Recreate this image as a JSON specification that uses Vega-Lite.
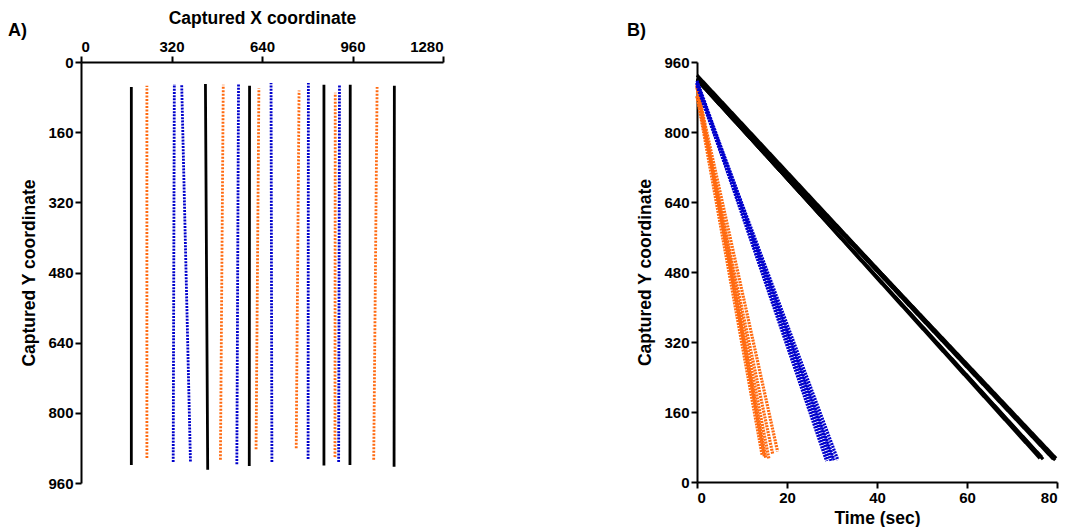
{
  "$schema": "https://vega.github.io/schema/vega-lite/v6.json",
  "background": "white",
  "padding": {"left": 7, "top": 9, "right": 5, "bottom": 0},
  "config": {
    "font": "Liberation Sans",
    "view": {"stroke": null},
    "axis": {
      "labelFont": "Liberation Sans", "labelFontSize": 15, "labelFontWeight": "bold", "labelColor": "black",
      "titleFont": "Liberation Sans", "titleFontSize": 17.5, "titleFontWeight": "bold", "titleColor": "black",
      "domainColor": "black", "domainWidth": 2, "tickColor": "black", "tickWidth": 2, "tickSize": 6,
      "grid": false, "labelPadding": 2, "format": "d"
    },
    "title": {"font": "Liberation Sans", "fontSize": 18, "fontWeight": "bold", "color": "black", "anchor": "start", "frame": "bounds"}
  },
  "datasets": {
    "tracks": [
      {"trk": "k1", "grp": "Black", "x": 178, "y": 919, "t": 0},
      {"trk": "k1", "grp": "Black", "x": 178, "y": 57, "t": 76.6},
      {"trk": "k2", "grp": "Black", "x": 448, "y": 930, "t": 0},
      {"trk": "k2", "grp": "Black", "x": 440, "y": 50, "t": 79.6},
      {"trk": "k3", "grp": "Black", "x": 595, "y": 921, "t": 0},
      {"trk": "k3", "grp": "Black", "x": 596, "y": 54, "t": 76.2},
      {"trk": "k4", "grp": "Black", "x": 859, "y": 920, "t": 0},
      {"trk": "k4", "grp": "Black", "x": 859, "y": 52, "t": 79.2},
      {"trk": "k5", "grp": "Black", "x": 951, "y": 919, "t": 0},
      {"trk": "k5", "grp": "Black", "x": 952, "y": 52, "t": 76.9},
      {"trk": "k6", "grp": "Black", "x": 1107, "y": 923, "t": 0},
      {"trk": "k6", "grp": "Black", "x": 1108, "y": 54, "t": 79.8},
      {"trk": "o1", "grp": "Orange", "x": 233, "y": 903, "t": 0},
      {"trk": "o1", "grp": "Orange", "x": 233, "y": 54, "t": 15.3},
      {"trk": "o2", "grp": "Orange", "x": 493, "y": 907, "t": 0},
      {"trk": "o2", "grp": "Orange", "x": 503, "y": 52, "t": 16.0},
      {"trk": "o3", "grp": "Orange", "x": 619, "y": 883, "t": 0},
      {"trk": "o3", "grp": "Orange", "x": 629, "y": 60, "t": 14.5},
      {"trk": "o4", "grp": "Orange", "x": 761, "y": 881, "t": 0},
      {"trk": "o4", "grp": "Orange", "x": 771, "y": 65, "t": 16.8},
      {"trk": "o5", "grp": "Orange", "x": 898, "y": 901, "t": 0},
      {"trk": "o5", "grp": "Orange", "x": 899, "y": 70, "t": 17.9},
      {"trk": "o6", "grp": "Orange", "x": 1035, "y": 907, "t": 0},
      {"trk": "o6", "grp": "Orange", "x": 1047, "y": 57, "t": 15.0},
      {"trk": "b1", "grp": "Blue", "x": 326, "y": 912, "t": 0},
      {"trk": "b1", "grp": "Blue", "x": 330, "y": 50, "t": 29.2},
      {"trk": "b2", "grp": "Blue", "x": 387, "y": 911, "t": 0},
      {"trk": "b2", "grp": "Blue", "x": 356, "y": 50, "t": 31.3},
      {"trk": "b3", "grp": "Blue", "x": 551, "y": 917, "t": 0},
      {"trk": "b3", "grp": "Blue", "x": 557, "y": 50, "t": 30.5},
      {"trk": "b4", "grp": "Blue", "x": 675, "y": 912, "t": 0},
      {"trk": "b4", "grp": "Blue", "x": 672, "y": 48, "t": 28.8},
      {"trk": "b5", "grp": "Blue", "x": 803, "y": 905, "t": 0},
      {"trk": "b5", "grp": "Blue", "x": 804, "y": 48, "t": 29.8},
      {"trk": "b6", "grp": "Blue", "x": 911, "y": 912, "t": 0},
      {"trk": "b6", "grp": "Blue", "x": 914, "y": 52, "t": 30.1}
    ]
  },
  "spacing": 182,
  "hconcat": [
    {
      "width": 362,
      "height": 421,
      "title": {"text": "A)", "dx": -13, "dy": 35},
      "data": {"name": "tracks"},
      "mark": {"type": "line", "strokeWidth": 2.8, "strokeCap": "butt"},
      "encoding": {
        "x": {"field": "x", "type": "quantitative",
              "scale": {"domain": [0, 1280], "nice": false},
              "axis": {"orient": "top", "values": [0, 320, 640, 960, 1280], "title": "Captured X coordinate", "titlePadding": 12}},
        "y": {"field": "y", "type": "quantitative",
              "scale": {"domain": [0, 960], "reverse": true, "nice": false},
              "axis": {"values": [0, 160, 320, 480, 640, 800, 960], "title": "Captured Y coordinate", "titlePadding": 9}},
        "detail": {"field": "trk"},
        "order": {"field": "t"},
        "color": {"field": "grp", "type": "nominal",
                  "scale": {"domain": ["Black", "Orange", "Blue"], "range": ["#000000", "#FF6A10", "#0000CC"]}, "legend": null},
        "strokeDash": {"field": "grp", "type": "nominal",
                       "scale": {"domain": ["Black", "Orange", "Blue"], "range": [[1, 0], [2, 1.5], [2, 1.2]]}, "legend": null}
      }
    },
    {
      "width": 360,
      "height": 420,
      "title": {"text": "B)", "dx": -10, "dy": -11},
      "data": {"name": "tracks"},
      "mark": {"type": "line", "strokeWidth": 3.2, "strokeCap": "butt"},
      "encoding": {
        "x": {"field": "t", "type": "quantitative",
              "scale": {"domain": [0, 80], "nice": false},
              "axis": {"values": [0, 20, 40, 60, 80], "title": "Time (sec)", "titlePadding": 4}},
        "y": {"field": "y", "type": "quantitative",
              "scale": {"domain": [0, 960], "nice": false},
              "axis": {"values": [0, 160, 320, 480, 640, 800, 960], "title": "Captured Y coordinate", "titlePadding": 9}},
        "detail": {"field": "trk"},
        "order": {"field": "t"},
        "color": {"field": "grp", "type": "nominal",
                  "scale": {"domain": ["Black", "Orange", "Blue"], "range": ["#000000", "#FF6A10", "#0000CC"]}, "legend": null},
        "strokeDash": {"field": "grp", "type": "nominal",
                       "scale": {"domain": ["Black", "Orange", "Blue"], "range": [[1, 0], [2, 1], [2, 1]]}, "legend": null}
      }
    }
  ],
  "resolve": {"scale": {"color": "independent", "strokeDash": "independent", "x": "independent", "y": "independent"}}
}
